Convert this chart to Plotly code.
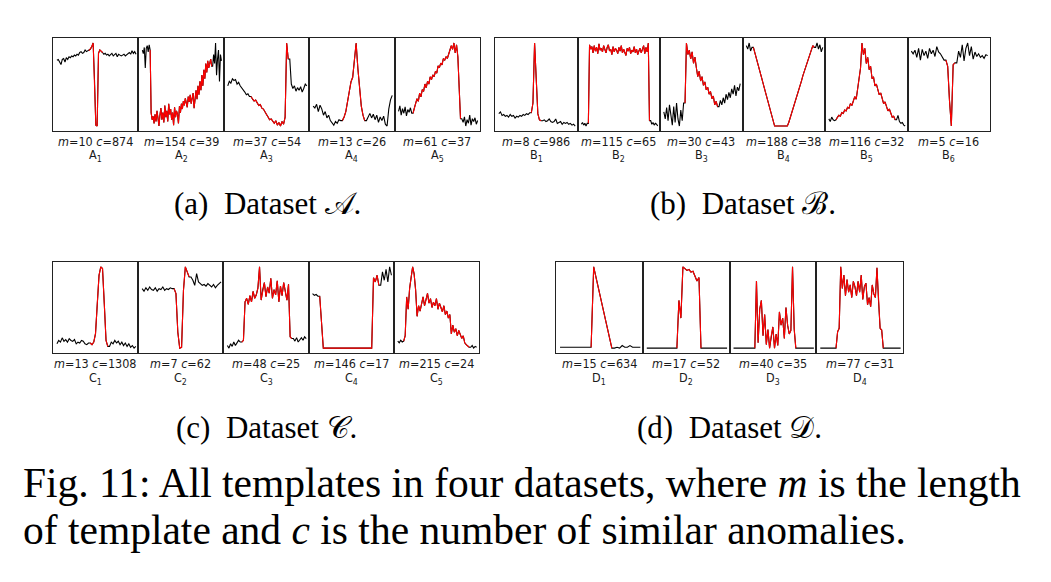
import plotly.graph_objects as go

# ---------------- data (normalised template values) ----------------
A1_pre = [0.77, 0.78, 0.75, 0.72, 0.78, 0.79, 0.75, 0.80, 0.78, 0.81, 0.80, 0.82, 0.81, 0.83, 0.82, 0.84, 0.83, 0.86, 0.87, 0.85, 0.86, 0.89, 0.87, 0.88]
A1_anom = [0.88, 0.90, 0.93, 0.97, 0.55, 0.02, 0.01, 0.85, 0.89, 0.88, 0.86]
A1_post = [0.84, 0.85, 0.83, 0.84, 0.82, 0.84, 0.85, 0.82, 0.83, 0.85, 0.81, 0.84, 0.83, 0.82, 0.83, 0.84, 0.82, 0.83, 0.85, 0.86, 0.84, 0.88, 0.85, 0.87, 0.84]

A2_pre = [0.90, 0.86, 0.93, 0.70, 0.92, 0.95, 0.88, 0.96]
A2_anom = [0.90, 0.20, 0.12, 0.16, 0.08, 0.18, 0.10, 0.22, 0.14, 0.05, 0.17, 0.25, 0.12, 0.20, 0.09, 0.28, 0.15, 0.22, 0.10, 0.30, 0.18, 0.24, 0.12, 0.20, 0.06, 0.26, 0.15, 0.22, 0.18, 0.08, 0.27, 0.20, 0.30, 0.24, 0.33, 0.28, 0.36, 0.30, 0.26, 0.38, 0.32, 0.40, 0.30, 0.36, 0.42, 0.25, 0.38, 0.45, 0.35, 0.50, 0.40, 0.55, 0.45, 0.62, 0.50, 0.68, 0.58, 0.75, 0.65, 0.78, 0.70, 0.74, 0.80, 0.72]
A2_post = [0.72, 0.85, 0.75, 0.98, 0.62, 0.80, 0.90, 0.55, 0.85, 0.78]

A3_pre = [0.50, 0.55, 0.53, 0.58, 0.56, 0.57, 0.52, 0.54, 0.50, 0.48, 0.45, 0.43, 0.40, 0.41, 0.38]
A3_anom = [0.38, 0.35, 0.33, 0.34, 0.30, 0.28, 0.29, 0.25, 0.24, 0.20, 0.18, 0.15, 0.12, 0.13, 0.10, 0.08, 0.11, 0.06, 0.09, 0.05, 0.10, 0.07, 0.15, 0.98, 0.80]
A3_post = [0.80, 0.52, 0.47, 0.50, 0.44, 0.48, 0.45, 0.49, 0.43, 0.47, 0.52, 0.50]

A4_pre = [0.28, 0.26, 0.30, 0.22, 0.29, 0.25, 0.18, 0.22, 0.15, 0.18, 0.12, 0.10, 0.07, 0.11, 0.09, 0.13, 0.12]
A4_anom = [0.12, 0.16, 0.22, 0.32, 0.45, 0.55, 0.60, 0.78, 0.98, 0.70, 0.45, 0.28, 0.18, 0.12]
A4_post = [0.12, 0.16, 0.20, 0.15, 0.19, 0.13, 0.18, 0.10, 0.16, 0.12, 0.17, 0.08, 0.06, 0.25, 0.35, 0.40]

A5_pre = [0.22, 0.28, 0.18, 0.25, 0.20, 0.27, 0.17, 0.24, 0.21, 0.26, 0.20]
A5_anom = [0.20, 0.26, 0.30, 0.36, 0.33, 0.42, 0.38, 0.46, 0.44, 0.52, 0.48, 0.55, 0.52, 0.60, 0.57, 0.62, 0.60, 0.66, 0.64, 0.72, 0.70, 0.75, 0.73, 0.80, 0.78, 0.82, 0.80, 0.84, 0.88, 0.94, 0.90, 0.97, 0.86, 0.95, 0.82, 0.40, 0.14]
A5_post = [0.14, 0.10, 0.16, 0.06, 0.13, 0.09, 0.18, 0.07, 0.14, 0.11, 0.15, 0.08, 0.12]

B1_pre = [0.18, 0.20, 0.16, 0.17, 0.15, 0.16, 0.14, 0.17, 0.15, 0.16, 0.13, 0.15, 0.14, 0.16, 0.15, 0.17, 0.16, 0.18, 0.17, 0.19]
B1_anom = [0.19, 0.30, 0.98, 0.60, 0.18, 0.11, 0.10]
B1_post = [0.10, 0.11, 0.09, 0.10, 0.12, 0.09, 0.08, 0.09, 0.12, 0.07, 0.08, 0.09, 0.06, 0.08, 0.07, 0.08, 0.06, 0.07, 0.05, 0.06, 0.04]

B2_pre = [0.06, 0.08, 0.05, 0.07, 0.04, 0.07]
B2_anom = [0.07, 0.95, 0.90, 0.93, 0.86, 0.94, 0.88, 0.92, 0.85, 0.96, 0.89, 0.91, 0.87, 0.94, 0.90, 0.86, 0.92, 0.95, 0.88, 0.90, 0.84, 0.93, 0.87, 0.91, 0.89, 0.85, 0.92, 0.88, 0.94, 0.86, 0.90, 0.87, 0.83, 0.91, 0.88, 0.92, 0.85, 0.89, 0.87, 0.93, 0.86, 0.90, 0.84, 0.88, 0.91, 0.86, 0.89, 0.94, 0.85, 0.92, 0.87, 0.97, 0.10]
B2_post = [0.10, 0.06, 0.08, 0.05, 0.07, 0.06, 0.04]

B3_pre = [0.20, 0.12, 0.25, 0.10, 0.28, 0.18, 0.05, 0.26, 0.08, 0.30, 0.12, 0.04, 0.22, 0.10, 0.30]
B3_anom = [0.30, 0.98, 0.85, 0.90, 0.80, 0.88, 0.75, 0.82, 0.70, 0.60, 0.66, 0.55, 0.60, 0.50, 0.54, 0.45, 0.48, 0.40, 0.43, 0.35, 0.38, 0.28, 0.32, 0.26]
B3_post = [0.26, 0.33, 0.28, 0.36, 0.30, 0.40, 0.34, 0.42, 0.36, 0.46, 0.40, 0.50, 0.38, 0.48, 0.44, 0.52]

B4_pre = [0.92, 0.88, 0.95, 0.86, 0.90]
B4_anom = [0.90, 0.84, 0.78, 0.72, 0.67, 0.60, 0.55, 0.48, 0.42, 0.36, 0.30, 0.25, 0.18, 0.12, 0.06, 0.01, 0.01, 0.01, 0.01, 0.01, 0.01, 0.01, 0.01, 0.01, 0.01, 0.05, 0.10, 0.15, 0.20, 0.26, 0.32, 0.36, 0.42, 0.47, 0.52, 0.58, 0.63, 0.68, 0.74, 0.78, 0.84, 0.88, 0.92, 0.90]
B4_post = [0.90, 0.95, 0.88, 0.93, 0.85, 0.90]

B5_pre = [0.13, 0.10, 0.15, 0.12, 0.11]
B5_anom = [0.12, 0.15, 0.17, 0.16, 0.20, 0.19, 0.23, 0.22, 0.26, 0.25, 0.30, 0.28, 0.34, 0.38, 0.35, 0.45, 0.55, 0.70, 0.98, 0.85, 0.92, 0.75, 0.82, 0.68, 0.72, 0.58, 0.60, 0.50, 0.52, 0.45, 0.40, 0.42, 0.35, 0.30, 0.32, 0.26, 0.22, 0.24, 0.18, 0.15, 0.16, 0.12]
B5_post = [0.12, 0.17, 0.10, 0.08, 0.09, 0.06, 0.05]

B6_pre = [0.85, 0.82, 0.86, 0.78, 0.88, 0.75, 0.87, 0.80, 0.85, 0.77, 0.88, 0.82, 0.86, 0.79, 0.90, 0.84, 0.82, 0.78, 0.75]
B6_anom = [0.75, 0.68, 0.30, 0.02, 0.70, 0.72]
B6_post = [0.72, 0.85, 0.78, 0.92, 0.74, 0.88, 0.94, 0.80, 0.90, 0.76, 0.84, 0.79, 0.82, 0.78, 0.80, 0.77, 0.81, 0.80]

C1_pre = [0.08, 0.12, 0.10, 0.15, 0.11, 0.13, 0.10, 0.14, 0.12, 0.11, 0.13, 0.08, 0.10, 0.09, 0.12, 0.11, 0.08, 0.07, 0.09]
C1_anom = [0.09, 0.07, 0.10, 0.20, 0.55, 0.88, 0.98, 0.96, 0.55, 0.12, 0.05]
C1_post = [0.05, 0.10, 0.08, 0.12, 0.09, 0.11, 0.07, 0.10, 0.06, 0.09, 0.05, 0.08, 0.04, 0.06, 0.03, 0.05]

C2_pre = [0.72, 0.69, 0.73, 0.70, 0.74, 0.71, 0.70, 0.73, 0.69, 0.72, 0.71, 0.74, 0.70, 0.72, 0.71, 0.73, 0.72]
C2_anom = [0.72, 0.66, 0.20, 0.01, 0.02, 0.70, 0.98, 0.92, 0.86]
C2_post = [0.86, 0.82, 0.76, 0.90, 0.80, 0.78, 0.76, 0.77, 0.75, 0.78, 0.76, 0.74, 0.77, 0.73, 0.76, 0.78, 0.80]

C3_pre = [0.08, 0.05, 0.10, 0.07, 0.12, 0.08, 0.11, 0.14, 0.12]
C3_anom = [0.12, 0.14, 0.58, 0.62, 0.55, 0.65, 0.58, 0.70, 0.62, 0.66, 0.74, 0.98, 0.60, 0.72, 0.80, 0.64, 0.75, 0.68, 0.85, 0.62, 0.72, 0.66, 0.82, 0.58, 0.76, 0.65, 0.80, 0.70, 0.60, 0.78, 0.18, 0.16]
C3_post = [0.16, 0.13, 0.17, 0.12, 0.15, 0.17, 0.14, 0.18, 0.16]

C4_pre = [0.66, 0.64, 0.65, 0.63]
C4_anom = [0.63, 0.30, 0.01, 0.01, 0.01, 0.01, 0.01, 0.01, 0.01, 0.01, 0.01, 0.01, 0.01, 0.01, 0.01, 0.01, 0.01, 0.01, 0.01, 0.01, 0.01, 0.01, 0.01, 0.01, 0.01, 0.01, 0.01, 0.01, 0.01, 0.01, 0.85, 0.80, 0.88, 0.76]
C4_post = [0.76, 0.92, 0.82, 0.95, 0.80, 0.98, 0.88]

C5_pre = [0.12, 0.10, 0.13, 0.11]
C5_anom = [0.12, 0.18, 0.62, 0.48, 0.72, 0.82, 0.96, 0.88, 0.70, 0.40, 0.52, 0.46, 0.56, 0.62, 0.52, 0.58, 0.66, 0.55, 0.60, 0.50, 0.56, 0.52, 0.60, 0.48, 0.55, 0.50, 0.45, 0.52, 0.42, 0.46, 0.38, 0.42, 0.20, 0.30, 0.22, 0.26, 0.18, 0.24, 0.20, 0.15, 0.18, 0.10, 0.08, 0.06, 0.05]
C5_post = [0.05, 0.07, 0.04, 0.06, 0.05]

D1_pre = [0.04, 0.04, 0.04, 0.04, 0.04, 0.04, 0.04, 0.04, 0.04, 0.04, 0.04, 0.04]
D1_anom = [0.04, 0.98, 0.84, 0.70, 0.56, 0.42, 0.28, 0.14, 0.03]
D1_post = [0.03, 0.04, 0.03, 0.06, 0.04, 0.04, 0.06, 0.04, 0.04, 0.04, 0.04]

D2_pre = [0.04, 0.04, 0.04, 0.04, 0.04, 0.04, 0.04, 0.04, 0.04, 0.04, 0.04, 0.04, 0.04, 0.04, 0.04]
D2_anom = [0.04, 0.58, 0.38, 0.96, 0.94, 0.92, 0.93, 0.90, 0.91, 0.86, 0.80, 0.84, 0.04]
D2_post = [0.04, 0.04, 0.04, 0.04, 0.04, 0.04, 0.04, 0.04, 0.04, 0.04, 0.04, 0.04, 0.04]

D3_pre = [0.04, 0.04, 0.04, 0.04, 0.04, 0.04, 0.04, 0.04, 0.04, 0.04, 0.04, 0.04, 0.04]
D3_anom = [0.04, 0.80, 0.10, 0.48, 0.58, 0.18, 0.42, 0.08, 0.25, 0.04, 0.18, 0.28, 0.04, 0.20, 0.07, 0.45, 0.30, 0.38, 0.15, 0.50, 0.30, 0.20, 0.24, 0.96, 0.26, 0.04]
D3_post = [0.04, 0.04, 0.04, 0.04, 0.04, 0.04, 0.04, 0.04, 0.04, 0.04, 0.04]

D4_pre = [0.04, 0.04, 0.04, 0.04, 0.04, 0.04, 0.04, 0.04, 0.04, 0.04]
D4_anom = [0.04, 0.22, 0.26, 0.94, 0.70, 0.85, 0.62, 0.80, 0.66, 0.74, 0.60, 0.78, 0.72, 0.62, 0.78, 0.66, 0.85, 0.58, 0.72, 0.76, 0.52, 0.60, 0.50, 0.74, 0.64, 0.60, 0.93, 0.56, 0.26, 0.24, 0.04]
D4_post = [0.04, 0.04, 0.04, 0.04, 0.04, 0.04, 0.04, 0.04, 0.04, 0.04, 0.04]

A_m = [10, 154, 37, 13, 61]
A_c = [874, 39, 54, 26, 37]
B_m = [8, 115, 30, 188, 116, 5]
B_c = [986, 65, 43, 38, 32, 16]
C_m = [13, 7, 48, 146, 215]
C_c = [1308, 62, 25, 17, 24]
D_m = [15, 17, 40, 77]
D_c = [634, 52, 35, 31]

A_series = [(A1_pre, A1_anom, A1_post), (A2_pre, A2_anom, A2_post), (A3_pre, A3_anom, A3_post),
            (A4_pre, A4_anom, A4_post), (A5_pre, A5_anom, A5_post)]
B_series = [(B1_pre, B1_anom, B1_post), (B2_pre, B2_anom, B2_post), (B3_pre, B3_anom, B3_post),
            (B4_pre, B4_anom, B4_post), (B5_pre, B5_anom, B5_post), (B6_pre, B6_anom, B6_post)]
C_series = [(C1_pre, C1_anom, C1_post), (C2_pre, C2_anom, C2_post), (C3_pre, C3_anom, C3_post),
            (C4_pre, C4_anom, C4_post), (C5_pre, C5_anom, C5_post)]
D_series = [(D1_pre, D1_anom, D1_post), (D2_pre, D2_anom, D2_post), (D3_pre, D3_anom, D3_post),
            (D4_pre, D4_anom, D4_post)]

SUBCAPTIONS = ["(a)&nbsp; Dataset 𝒜.", "(b)&nbsp; Dataset ℬ.", "(c)&nbsp; Dataset 𝒞.", "(d)&nbsp; Dataset 𝒟."]
CAPTION_1 = "Fig. 11: All templates in four datasets, where <i>m</i> is the length"
CAPTION_2 = "of template and <i>c</i> is the number of similar anomalies."

# ---------------- layout geometry (pixels in the 1051x582 page) ----------------
PAGE_W, PAGE_H = 1051, 582
OFF = 8                      # default body margin of the html page
W, H = PAGE_W - 2 * OFF, PAGE_H - 2 * OFF


def px(xp):
    return (xp - OFF) / W


def py(yp):
    return 1 - (yp - OFF) / H


ROWS = [
    # letter, series, m, c, x0, x1, ytop, ybot, y_label1, y_label2, caption x, caption y
    ("A", A_series, A_m, A_c, 53, 480, 38, 131, 141, 155, 267, 203),
    ("B", B_series, B_m, B_c, 495, 990, 38, 131, 141, 155, 743, 203),
    ("C", C_series, C_m, C_c, 53, 479, 262, 353, 363, 378, 266, 427),
    ("D", D_series, D_m, D_c, 556, 903, 262, 353, 363, 378, 730, 427),
]

LABEL_FONT = dict(family="DejaVu Sans Condensed, DejaVu Sans", size=12.5, color="#1a1a1a")

fig = go.Figure()
annotations = []
k = 0
for ri, (letter, series, ms, cs, x0, x1, ytop, ybot, yl1, yl2, cx, cy) in enumerate(ROWS):
    npan = len(series)
    pw = (x1 - x0) / npan
    for i, (pre, anom, post) in enumerate(series):
        k += 1
        xa = "x" if k == 1 else f"x{k}"
        ya = "y" if k == 1 else f"y{k}"
        vals = pre + anom + post
        xs = list(range(len(vals)))
        s, e = len(pre), len(pre) + len(anom)
        fig.add_trace(go.Scatter(x=xs, y=vals, mode="lines", line=dict(color="black", width=1.1),
                                 xaxis=xa, yaxis=ya, hoverinfo="skip"))
        fig.add_trace(go.Scatter(x=xs[s:e], y=vals[s:e], mode="lines", line=dict(color="#ff0000", width=1.1),
                                 xaxis=xa, yaxis=ya, hoverinfo="skip"))
        L = len(vals) - 1
        lo, hi = min(vals), max(vals)
        sp = hi - lo
        axcommon = dict(showline=True, mirror=True, linecolor="#222222", linewidth=1,
                        showticklabels=False, ticks="", showgrid=False, zeroline=False, fixedrange=True)
        fig.layout[("xaxis" if k == 1 else f"xaxis{k}")] = dict(
            domain=[px(x0 + i * pw), px(x0 + (i + 1) * pw)],
            range=[-0.05 * L, 1.03 * L], anchor=ya, **axcommon)
        fig.layout[("yaxis" if k == 1 else f"yaxis{k}")] = dict(
            domain=[py(ybot), py(ytop)],
            range=[lo - 0.06 * sp, hi + 0.06 * sp], anchor=xa, **axcommon)
        xc = px(x0 + (i + 0.5) * pw)
        annotations.append(dict(x=xc, y=py(yl1), xref="paper", yref="paper", showarrow=False,
                                text=f"<i>m</i>={ms[i]} <i>c</i>={cs[i]}", font=LABEL_FONT,
                                xanchor="center", yanchor="middle"))
        annotations.append(dict(x=xc, y=py(yl2), xref="paper", yref="paper", showarrow=False,
                                text=f"{letter}<sub>{i + 1}</sub>", font=LABEL_FONT,
                                xanchor="center", yanchor="middle"))
    annotations.append(dict(x=px(cx), y=py(cy), xref="paper", yref="paper", showarrow=False,
                            text=SUBCAPTIONS[ri], font=dict(family="Liberation Serif", size=31, color="black"),
                            xanchor="center", yanchor="middle"))

annotations.append(dict(x=px(21), y=py(483), xref="paper", yref="paper", showarrow=False,
                        text=CAPTION_1, font=dict(family="Liberation Serif", size=41.5, color="black"),
                        xanchor="left", yanchor="middle"))
annotations.append(dict(x=px(21), y=py(530), xref="paper", yref="paper", showarrow=False,
                        text=CAPTION_2, font=dict(family="Liberation Serif", size=41.5, color="black"),
                        xanchor="left", yanchor="middle"))

fig.update_layout(width=W, height=H, autosize=False, margin=dict(l=0, r=0, t=0, b=0),
                  paper_bgcolor="white", plot_bgcolor="white", showlegend=False,
                  annotations=annotations)

fig.write_html("out.html")
